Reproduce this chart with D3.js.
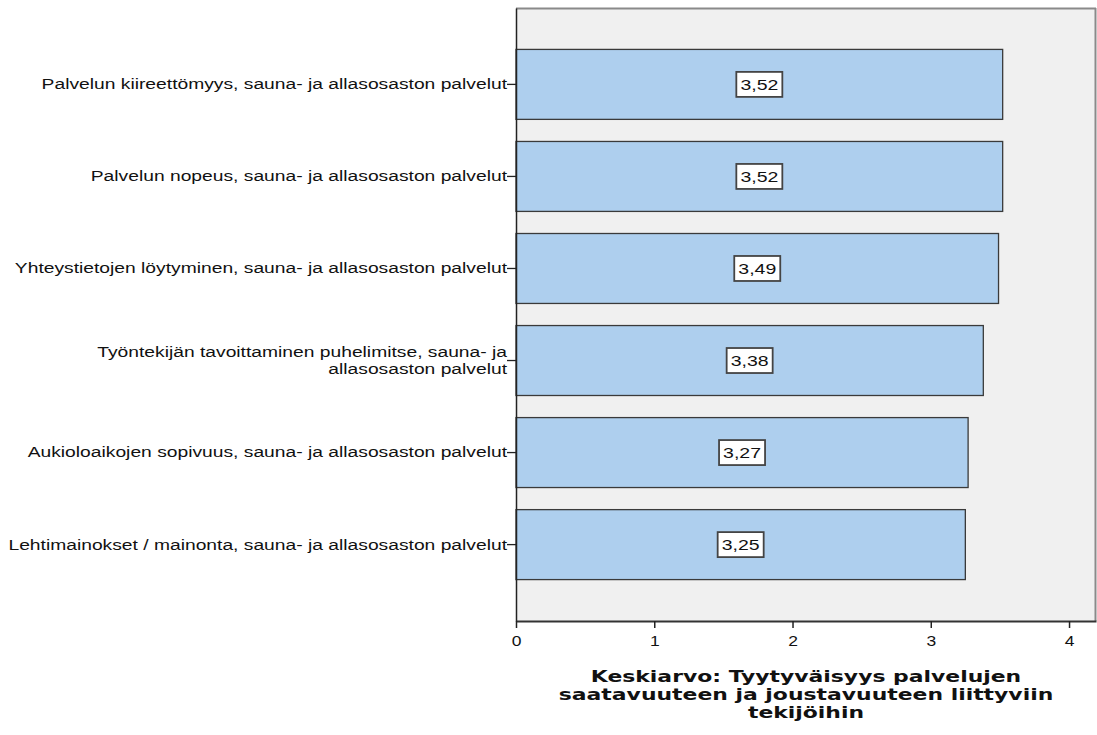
<!DOCTYPE html>
<html>
<head>
<meta charset="utf-8">
<script src="https://cdn.jsdelivr.net/npm/d3@7/dist/d3.min.js"></script>
<style>
  body { margin: 0; background: #fff; }
  svg { display: block; }
</style>
</head>
<body>
<svg id="chart" width="1097" height="735"></svg>
<script>
// Mean satisfaction per service attribute
const categories = [
  "Palvelun kiireettömyys, sauna- ja allasosaston palvelut",
  "Palvelun nopeus, sauna- ja allasosaston palvelut",
  "Yhteystietojen löytyminen, sauna- ja allasosaston palvelut",
  "Työntekijän tavoittaminen puhelimitse, sauna- ja|allasosaston palvelut",
  "Aukioloaikojen sopivuus, sauna- ja allasosaston palvelut",
  "Lehtimainokset / mainonta, sauna- ja allasosaston palvelut"
];
const values = [3.52, 3.52, 3.49, 3.38, 3.27, 3.25];
const valueLabels = ["3,52", "3,52", "3,49", "3,38", "3,27", "3,25"];
const xTicks = [0, 1, 2, 3, 4];
const axisTitle = [
  "Keskiarvo: Tyytyväisyys palvelujen",
  "saatavuuteen ja joustavuuteen liittyviin",
  "tekijöihin"
];

const svg = d3.select("#chart");
const plot = { left: 516, right: 1096, top: 8, bottom: 621 };
const sansFont = "Liberation Sans, Arial, sans-serif";
const stretch = 1.375; // wide horizontal glyph proportions

const x = d3.scaleLinear().domain([0, 4.195]).range([plot.left, plot.right]);
const y = d3.scaleBand()
  .domain(categories)
  .range([plot.top, plot.bottom])
  .paddingInner(0.24)
  .paddingOuter(0.45);

// plot background
svg.append("rect")
  .attr("x", plot.left).attr("y", plot.top)
  .attr("width", plot.right - plot.left).attr("height", plot.bottom - plot.top)
  .attr("fill", "#f0f0f0");

// frame: top and right in gray
svg.append("line")
  .attr("x1", plot.left).attr("x2", plot.right)
  .attr("y1", plot.top + 0.5).attr("y2", plot.top + 0.5)
  .attr("stroke", "#8a8a8a").attr("stroke-width", 2);
svg.append("line")
  .attr("x1", plot.right - 0.5).attr("x2", plot.right - 0.5)
  .attr("y1", plot.top).attr("y2", plot.bottom)
  .attr("stroke", "#8a8a8a").attr("stroke-width", 2);

// bars
svg.append("g").selectAll("rect")
  .data(values)
  .join("rect")
  .attr("x", x(0))
  .attr("y", (d, i) => y(categories[i]))
  .attr("width", d => x(d) - x(0))
  .attr("height", y.bandwidth())
  .attr("fill", "#aecfee")
  .attr("stroke", "#3a3a3a")
  .attr("stroke-width", 1.3);

// value labels
const lab = svg.append("g").selectAll("g")
  .data(values)
  .join("g")
  .attr("transform", (d, i) => `translate(${x(d / 2)},${y(categories[i]) + y.bandwidth() / 2})`);
lab.append("rect")
  .attr("x", -23).attr("y", -12.5)
  .attr("width", 46).attr("height", 25)
  .attr("fill", "#fff")
  .attr("stroke", "#444")
  .attr("stroke-width", 1.8);
lab.append("text")
  .attr("text-anchor", "middle")
  .attr("dy", "0.36em")
  .attr("transform", "scale(1.3,1)")
  .attr("font-family", sansFont)
  .attr("font-size", 15)
  .attr("fill", "#111")
  .text((d, i) => valueLabels[i]);

// y axis
const yAxis = svg.append("g")
  .attr("transform", `translate(${plot.left},0)`)
  .call(d3.axisLeft(y).tickSize(9).tickSizeOuter(0).tickFormat(""));
yAxis.select(".domain").attr("stroke", "#222").attr("stroke-width", 1.5);
yAxis.selectAll(".tick line").attr("stroke", "#222").attr("stroke-width", 1.3);

yAxis.selectAll(".tick").each(function (d) {
  const lines = d.split("|");
  const t = d3.select(this).append("g")
    .attr("transform", `translate(-9,0) scale(${stretch},1)`)
    .append("text")
    .attr("text-anchor", "end")
    .attr("fill", "#111")
    .attr("font-family", sansFont)
    .attr("font-size", 14);
  const lh = 17;
  const y0 = -(lines.length - 1) * lh / 2;
  lines.forEach((ln, k) => {
    t.append("tspan")
      .attr("x", 0)
      .attr("y", y0 + k * lh)
      .attr("dy", "0.35em")
      .text(ln);
  });
});

// x axis
const xAxis = svg.append("g")
  .attr("transform", `translate(0,${plot.bottom})`)
  .call(d3.axisBottom(x).tickValues(xTicks).tickSize(7).tickSizeOuter(0).tickFormat(d3.format("d")));
xAxis.select(".domain").attr("stroke", "#333").attr("stroke-width", 2);
xAxis.selectAll(".tick line").attr("stroke", "#222").attr("stroke-width", 1.5);
xAxis.selectAll(".tick text")
  .attr("font-family", sansFont)
  .attr("font-size", 14)
  .attr("fill", "#111")
  .attr("y", 0)
  .attr("dy", 0)
  .attr("transform", `translate(0,25) scale(1.25,1)`);

// axis title
const titleG = svg.append("g")
  .attr("transform", `translate(${(plot.left + plot.right) / 2},0) scale(1.37,1)`);
const title = titleG.append("text")
  .attr("text-anchor", "middle")
  .attr("font-family", "DejaVu Sans, sans-serif")
  .attr("font-weight", "bold")
  .attr("font-size", 16)
  .attr("fill", "#111");
axisTitle.forEach((ln, k) => {
  title.append("tspan")
    .attr("x", 0)
    .attr("y", 682 + k * 18)
    .text(ln);
});
</script>
</body>
</html>
